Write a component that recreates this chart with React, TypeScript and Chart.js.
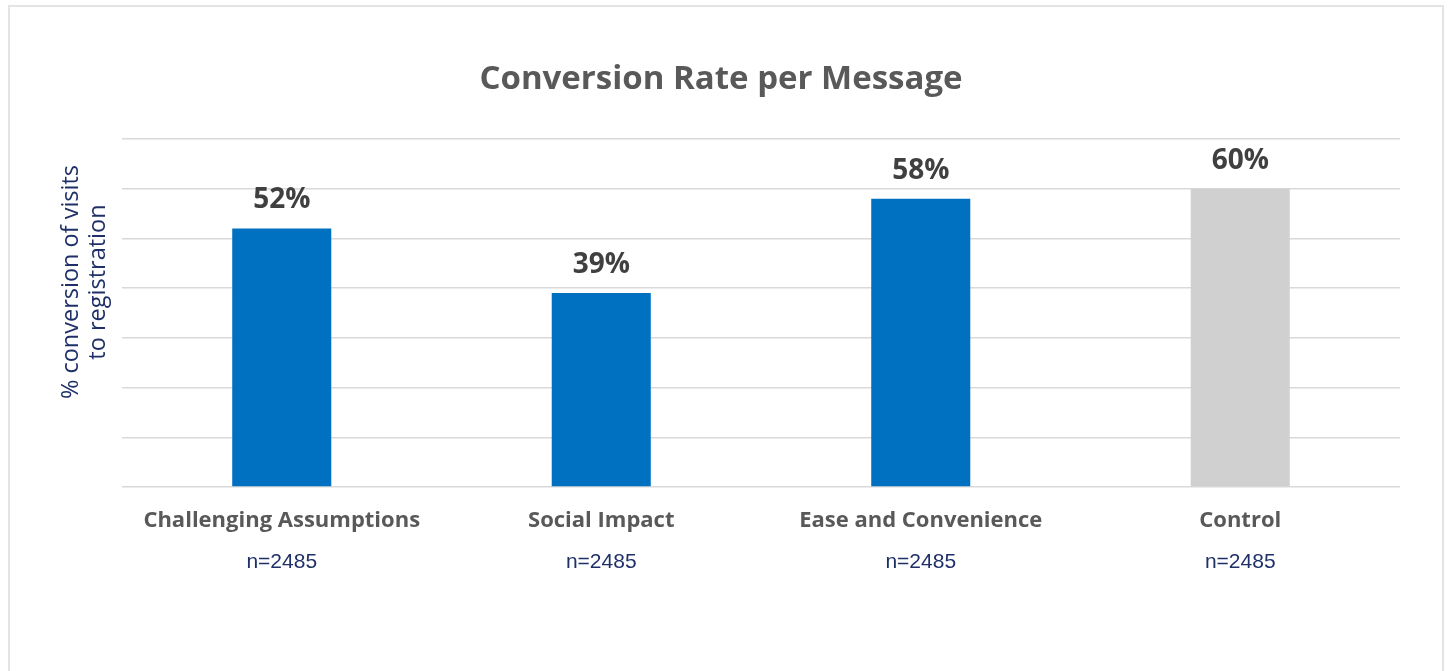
import React, { useEffect, useRef } from 'react';
import { Chart, registerables } from 'chart.js';

Chart.register(...registerables);

const categories = ['Challenging Assumptions', 'Social Impact', 'Ease and Convenience', 'Control'];
const sampleSizes = ['n=2485', 'n=2485', 'n=2485', 'n=2485'];
const conversionRates = [52, 39, 58, 60];
const barColors = ['#0070C0', '#0070C0', '#0070C0', '#D0D0D0'];
const yMin = 0;
const yMax = 70;
const yStep = 10;
const chartTitle = 'Conversion Rate per Message';
const yAxisTitle = ['% conversion of visits', 'to registration'];

const valueLabels = {
  id: 'valueLabels',
  afterDatasetsDraw(chart: any) {
    const ctx = chart.ctx;
    const meta = chart.getDatasetMeta(0);
    ctx.save();
    ctx.font = 'bold 28px "Open Sans"';
    ctx.fillStyle = '#404040';
    ctx.textAlign = 'center';
    ctx.textBaseline = 'alphabetic';
    meta.data.forEach((bar: any, i: number) => {
      ctx.fillText(conversionRates[i] + '%', bar.x, bar.y - 20);
    });
    ctx.restore();
  },
};

const yTitlePlugin = {
  id: 'yTitlePlugin',
  afterDraw(chart: any) {
    const { ctx, chartArea } = chart;
    const cy = chartArea.top + (chartArea.bottom - chartArea.top) * 0.411;
    ctx.save();
    ctx.font = '23.5px "Open Sans"';
    ctx.fillStyle = '#1F3068';
    ctx.textAlign = 'center';
    ctx.textBaseline = 'alphabetic';
    const baselines = [chartArea.left - 44, chartArea.left - 17];
    yAxisTitle.forEach((line, i) => {
      ctx.save();
      ctx.translate(baselines[i], cy);
      ctx.rotate(-Math.PI / 2);
      ctx.fillText(line, 0, 0);
      ctx.restore();
    });
    ctx.restore();
  },
};

function ChartView() {
  const ref = useRef<HTMLCanvasElement | null>(null);
  useEffect(() => {
    if (!ref.current) return;
    Chart.defaults.font.family = '"Open Sans", sans-serif';
    const chart = new Chart(ref.current, {
      type: 'bar',
      data: {
        labels: categories,
        datasets: [
          {
            data: conversionRates,
            backgroundColor: barColors,
            borderWidth: 0,
            barPercentage: 0.31,
            categoryPercentage: 1,
          },
        ],
      },
      options: {
        responsive: false,
        animation: false,
        devicePixelRatio: 1,
        layout: { padding: { left: 0, right: 8, top: 0, bottom: 69 } },
        plugins: {
          legend: { display: false },
          tooltip: { enabled: false },
          title: {
            display: true,
            text: chartTitle,
            color: '#595959',
            font: { size: 33, weight: 'bold', family: '"Open Sans", sans-serif' },
            padding: { top: 60, bottom: 39.4 },
          },
        },
        scales: {
          y: {
            min: yMin,
            max: yMax,
            ticks: { display: false, stepSize: yStep },
            grid: { color: '#D9D9D9', lineWidth: 1.5, drawTicks: false },
            border: { display: false },
            afterFit: (s: any) => { s.width = 122; },
          },
          yRight: {
            position: 'right',
            min: yMin,
            max: yMax,
            ticks: { display: false },
            grid: { display: false, drawTicks: false, drawOnChartArea: false },
            border: { display: false },
            afterFit: (s: any) => { s.width = 42; },
          },
          x: {
            weight: 0,
            grid: { display: false, drawTicks: false },
            border: { display: false },
            ticks: {
              color: '#595959',
              font: { size: 22, weight: 'bold', family: '"Open Sans", sans-serif' },
              padding: 21,
              maxRotation: 0,
              autoSkip: false,
            },
            afterFit: (s: any) => { s.height = 55; },
          },
          x2: {
            type: 'category',
            labels: sampleSizes,
            position: 'bottom',
            weight: 1,
            offset: true,
            grid: { display: false, drawTicks: false },
            border: { display: false },
            ticks: {
              color: '#1F3068',
              font: { size: 21, family: '"Liberation Sans", Arial, sans-serif' },
              padding: 8,
              maxRotation: 0,
              autoSkip: false,
            },
            afterFit: (s: any) => { s.height = 60; },
          },
        },
      },
      plugins: [valueLabels, yTitlePlugin],
    });
    return () => chart.destroy();
  }, []);
  return <canvas ref={ref} width={1450} height={671} style={{ position: 'absolute', left: 0, top: 0 }} />;
}

export default function App() {
  return (
    <div style={{ position: 'fixed', left: 0, top: 0, width: 1450, height: 671, overflow: 'hidden', background: '#fff' }}>
      <div
        style={{
          position: 'absolute',
          left: 8,
          top: 5,
          width: 1436,
          height: 700,
          border: '2px solid #E4E4E4',
          boxSizing: 'border-box',
        }}
      />
      <ChartView />
    </div>
  );
}
